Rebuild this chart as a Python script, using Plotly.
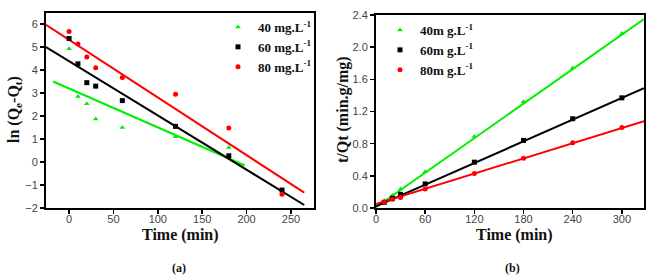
import plotly.graph_objects as go

# ---- Panel (a): pseudo-first-order, ln(Qe-Qt) vs time ----
time_a = [0, 10, 20, 30, 60, 120, 180, 240]
ln_40 = [4.93, 2.85, 2.53, 1.87, 1.50, 1.10, 0.63, None]
ln_60 = [5.37, 4.27, 3.45, 3.30, 2.67, 1.55, 0.27, -1.22]
ln_80 = [5.68, 5.13, 4.57, 4.10, 3.68, 2.95, 1.48, -1.40]
# fitted lines (end points)
fit_a_x = {"40": [-18, 198], "60": [-26, 265], "80": [-26, 265]}
fit_a_y = {"40": [3.50, -0.15], "60": [5.00, -1.87], "80": [5.97, -1.33]}

# ---- Panel (b): pseudo-second-order, t/Qt vs time ----
time_b = [10, 20, 30, 60, 120, 180, 240, 300]
tq_40 = [0.09, 0.16, 0.235, 0.45, 0.89, 1.32, 1.74, 2.17]
tq_60 = [0.07, 0.12, 0.17, 0.30, 0.57, 0.84, 1.11, 1.37]
tq_80 = [0.07, 0.11, 0.13, 0.235, 0.43, 0.62, 0.81, 1.00]
fit_b_x = [0, 327]
fit_b_y = {"40": [0.01, 2.35], "60": [0.02, 1.49], "80": [0.05, 1.08]}

labels_a = ["40 mg.L<sup>-1</sup>", "60 mg.L<sup>-1</sup>", "80 mg.L<sup>-1</sup>"]
labels_b = ["40m g.L<sup>-1</sup>", "60m g.L<sup>-1</sup>", "80m g.L<sup>-1</sup>"]
keys = ["40", "60", "80"]
colors = ["#00ee00", "#000000", "#ff0000"]
symbols = ["triangle-up", "square", "circle"]

W, H = 661, 279
fig = go.Figure()

for k, c in zip(keys, colors):
    fig.add_trace(go.Scatter(x=fit_a_x[k], y=fit_a_y[k], mode="lines",
                             line=dict(color=c, width=2), showlegend=False,
                             xaxis="x", yaxis="y"))
for k, lab, c, s, ys in zip(keys, labels_a, colors, symbols, [ln_40, ln_60, ln_80]):
    fig.add_trace(go.Scatter(x=time_a, y=ys, mode="markers", name="<b>" + lab + "</b>",
                             marker=dict(color=c, symbol=s, size=5),
                             xaxis="x", yaxis="y", legend="legend"))

for k, c in zip(keys, colors):
    fig.add_trace(go.Scatter(x=fit_b_x, y=fit_b_y[k], mode="lines",
                             line=dict(color=c, width=2), showlegend=False,
                             xaxis="x2", yaxis="y2"))
for k, lab, c, s, ys in zip(keys, labels_b, colors, symbols, [tq_40, tq_60, tq_80]):
    fig.add_trace(go.Scatter(x=time_b, y=ys, mode="markers", name="<b>" + lab + "</b>",
                             marker=dict(color=c, symbol=s, size=5),
                             xaxis="x2", yaxis="y2", legend="legend2"))

tickfont = dict(family="Liberation Sans", size=11, color="#444")
titlefont = dict(family="Liberation Serif", size=16, color="#111")
axis_common = dict(showline=True, linecolor="black", linewidth=2, mirror=True,
                   ticks="outside", ticklen=4, tickwidth=1.5, tickcolor="black",
                   showgrid=False, zeroline=False, tickfont=tickfont, automargin=False)
legfont = dict(family="Liberation Serif", size=13, color="#111")

fig.update_layout(
    width=W, height=H,
    margin=dict(l=0, r=0, t=0, b=0),
    paper_bgcolor="white", plot_bgcolor="white",
    hovermode=False,
    xaxis=dict(domain=[46 / W, 314 / W], range=[-26, 276], tickvals=[0, 50, 100, 150, 200, 250],
               anchor="y", ticklabelstandoff=-4, **axis_common),
    yaxis=dict(domain=[1 - 208 / H, 1 - 13 / H], range=[-2, 6.48], tickvals=list(range(-2, 7)),
               anchor="x", **axis_common),
    xaxis2=dict(domain=[376 / W, 644 / W], range=[0, 327], tickvals=[0, 60, 120, 180, 240, 300],
                anchor="y2", ticklabelstandoff=-4, **axis_common),
    yaxis2=dict(domain=[1 - 208 / H, 1 - 15 / H], range=[0, 2.4],
                tickvals=[0, 0.4, 0.8, 1.2, 1.6, 2.0, 2.4], tickformat=".1f",
                anchor="x2", **axis_common),
    legend=dict(x=218 / W, y=1 - 12 / H, xanchor="left", yanchor="top",
                bgcolor="rgba(0,0,0,0)", font=legfont, tracegroupgap=0, itemwidth=30),
    legend2=dict(x=380 / W, y=1 - 15 / H, xanchor="left", yanchor="top",
                 bgcolor="rgba(0,0,0,0)", font=legfont, tracegroupgap=0, itemwidth=30),
    annotations=[
        dict(text="<b>Time (min)</b>", x=180 / W, y=1 - 235 / H, xref="paper", yref="paper",
             xanchor="center", yanchor="middle", showarrow=False, font=titlefont),
        dict(text="<b>Time (min)</b>", x=514 / W, y=1 - 235 / H, xref="paper", yref="paper",
             xanchor="center", yanchor="middle", showarrow=False, font=titlefont),
        dict(text="<b>ln (Q<sub>e</sub>-Q<sub>t</sub>)</b>", x=15 / W, y=1 - 110 / H,
             xref="paper", yref="paper", xanchor="center", yanchor="middle",
             showarrow=False, textangle=-90, font=titlefont),
        dict(text="<b>t/Qt (min.g/mg)</b>", x=343 / W, y=1 - 110 / H,
             xref="paper", yref="paper", xanchor="center", yanchor="middle",
             showarrow=False, textangle=-90, font=titlefont),
        dict(text="<b>(a)</b>", x=179 / W, y=1 - 268 / H, xref="paper", yref="paper",
             xanchor="center", yanchor="middle", showarrow=False,
             font=dict(family="Liberation Serif", size=12, color="#111")),
        dict(text="<b>(b)</b>", x=512 / W, y=1 - 268 / H, xref="paper", yref="paper",
             xanchor="center", yanchor="middle", showarrow=False,
             font=dict(family="Liberation Serif", size=12, color="#111")),
    ],
)

fig.write_html("out.html", config={"displayModeBar": False, "staticPlot": True},
               post_script="document.body.style.margin='0';document.body.style.overflow='hidden';")
